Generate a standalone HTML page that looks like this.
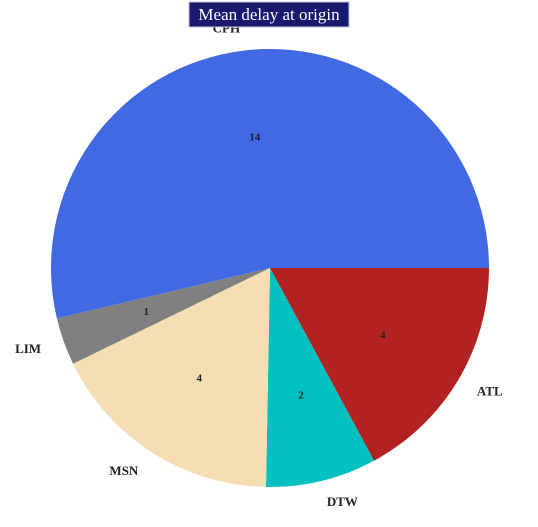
<!DOCTYPE html>
<html><head><meta charset="utf-8"><style>
body{margin:0;background:#fff;}
svg text{font-family:"Liberation Serif",serif;}
</style></head><body>
<svg width="538" height="522">
<g id="slices"></g>
<rect x="189" y="2" width="160" height="25" fill="#191970" stroke="#c8c8e0" stroke-width="1"/>
<text x="269" y="20" text-anchor="middle" fill="#fff" font-size="17">Mean delay at origin</text>
</svg>
<script>
const categories = ["ATL","DTW","MSN","LIM","CPH"];
const values = [4.4, 2.1, 4.5, 0.9, 13.8];
const labels = ["4","2","4","1","14"];
const colors = ["#b22222","#00c0c0","#f5deb3","#808080","#4169e1"];
const cx=270, cy=268, r=219;
const g=document.getElementById('slices');
const ns='http://www.w3.org/2000/svg';
const total=values.reduce((a,b)=>a+b,0);
let a0=0;
const textLayer=[];
values.forEach((v,i)=>{
  const a1=a0+v/total*2*Math.PI;
  const x0=cx+r*Math.cos(a0), y0=cy+r*Math.sin(a0);
  const x1=cx+r*Math.cos(a1), y1=cy+r*Math.sin(a1);
  const p=document.createElementNS(ns,'path');
  p.setAttribute('d',`M${cx},${cy}L${x0},${y0}A${r},${r} 0 ${a1-a0>Math.PI?1:0} 1 ${x1},${y1}Z`);
  p.setAttribute('fill',colors[i]);
  
  
  g.appendChild(p);
  const am=(a0+a1)/2;
  const vt=document.createElementNS(ns,'text');
  vt.setAttribute('x',cx+0.6*r*Math.cos(am));
  vt.setAttribute('y',cy+0.6*r*Math.sin(am)+3);
  vt.setAttribute('text-anchor','middle');
  vt.setAttribute('font-size','11');
  vt.setAttribute('font-weight','bold');
  vt.setAttribute('fill','#222');
  vt.textContent=labels[i];
  
  
  textLayer.push(vt);
  const lx=cx+1.1*r*Math.cos(am), ly=cy+1.1*r*Math.sin(am);
  const ct=document.createElementNS(ns,'text');
  ct.setAttribute('x',lx-(Math.cos(am)<0?2:0));
  ct.setAttribute('y',ly+4);
  ct.setAttribute('text-anchor',Math.cos(am)<0?'end':'start');
  ct.setAttribute('font-size','13');
  ct.setAttribute('font-weight','bold');
  ct.setAttribute('fill','#222');
  ct.textContent=categories[i];
  
  
  textLayer.push(ct);
  a0=a1;
});
textLayer.forEach(t=>g.appendChild(t));
</script>
</body></html>
